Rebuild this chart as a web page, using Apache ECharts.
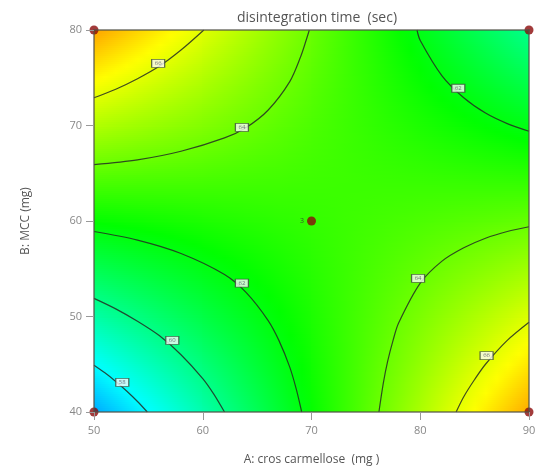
<!DOCTYPE html>
<html>
<head>
<meta charset="utf-8">
<script src="https://cdn.jsdelivr.net/npm/echarts@6/dist/echarts.min.js"></script>
<style>
html,body{margin:0;padding:0;background:#fff;}
#chart{width:539px;height:472px;}
</style>
</head>
<body>
<div id="chart"></div>
<script>
// ---- data ----
const A_TICKS = [50, 60, 70, 80, 90];          // A: cros carmellose (mg)
const B_TICKS = [40, 50, 60, 70, 80];          // B: MCC (mg)
// response (disintegration time, sec) at grid nodes, one array per B level
const zB40 = [56.6, 59.4, 62.3, 65.1, 67.9];
const zB50 = [59.5, 61.1, 62.7, 64.3, 65.9];
const zB60 = [62.3, 62.7, 63.1, 63.5, 63.9];
const zB70 = [65.2, 64.4, 63.5, 62.7, 61.9];
const zB80 = [68.0, 66.0, 64.0, 61.9, 59.9];

// contour lines [A, B]
const c66top = [[60.1,80],[58,77.9],[56,76.2],[54,74.9],[52,73.8],[50,72.9]];
const c64top = [[69.8,80],[69.5,78.9],[69,77.2],[68,74.6],[66,71.6],[64,69.8],[62,68.7],[58,67.3],[54,66.4],[50,65.9]];
const c62top = [[79.7,80],[80,78.9],[82,75.2],[84,72.9],[86,71.3],[88,70.2],[90,69.4]];
const c62low = [[50,58.9],[54,58],[58,56.6],[62,54.4],[64,52.5],[66,49.6],[67,47.5],[68,44.7],[68.6,42.4],[69.1,40]];
const c60low = [[50,51.9],[52,50.8],[54,49.5],[56,48],[58,46],[60,43.5],[61,41.9],[62,40]];
const c58low = [[50,44.9],[51,44.1],[52,43.2],[53,42.2],[54,41.1],[54.9,40]];
const c64low = [[76.2,40],[76.6,43],[77,45.3],[77.5,47.5],[78,49.3],[80,53.5],[82,55.8],[84,57.2],[86,58.2],[88,58.9],[90,59.4]];
const c66low = [[83.3,40],[84,41.6],[85,43.4],[86,45],[88,47.5],[90,49.4]];

// contour level labels
const labelA = [55.9, 63.6, 83.5, 63.6, 57.2, 52.6, 79.8, 86.1];
const labelB = [76.5, 69.8, 73.9, 53.5, 47.5, 43.1, 54.0, 45.9];
const labelText = ['66', '64', '62', '62', '60', '58', '64', '66'];

// design points
const designA = [50, 90, 70, 50, 90];
const designB = [80, 80, 60, 40, 40];
const designLabel = ['', '', '3', '', ''];

// ---- build ----
const zRows = [zB40, zB50, zB60, zB70, zB80];
const cells = [];
for (let j = 0; j < B_TICKS.length - 1; j++) {
  for (let i = 0; i < A_TICKS.length - 1; i++) {
    cells.push([A_TICKS[i], A_TICKS[i+1], B_TICKS[j], B_TICKS[j+1],
      zRows[j][i], zRows[j][i+1], zRows[j+1][i], zRows[j+1][i+1]]);
  }
}

const VMIN = 53.8, VMAX = 70.7;
const CMAP = [[0,[0,0,255]],[0.25,[0,255,255]],[0.5,[0,255,0]],[0.75,[255,255,0]],[1,[255,0,0]]];
function colorOf(v) {
  let t = (v - VMIN) / (VMAX - VMIN);
  t = Math.max(0, Math.min(1, t));
  for (let k = 0; k < CMAP.length - 1; k++) {
    const a = CMAP[k], b = CMAP[k+1];
    if (t <= b[0]) {
      const f = (t - a[0]) / (b[0] - a[0]);
      const c = a[1].map((x, n) => Math.round(x + (b[1][n] - x) * f));
      return 'rgb(' + c.join(',') + ')';
    }
  }
  return 'rgb(255,0,0)';
}

function renderCell(params, api) {
  const a0 = api.value(0), a1 = api.value(1), b0 = api.value(2), b1 = api.value(3);
  const z00 = api.value(4), z10 = api.value(5), z01 = api.value(6), z11 = api.value(7);
  const p00 = api.coord([a0, b0]);
  const p11 = api.coord([a1, b1]);
  const x0 = Math.floor(p00[0]), x1 = Math.ceil(p11[0]);
  const yb = p00[1], yt = p11[1];
  const H = yb - yt;
  const children = [];
  const yStart = Math.floor(yt), yEnd = Math.ceil(yb);
  for (let y = yStart; y < yEnd; y += 2) {
    const v = Math.max(0, Math.min(1, (yb - (y + 1)) / H));
    const zl = z00 * (1 - v) + z01 * v;
    const zr = z10 * (1 - v) + z11 * v;
    const stops = [];
    for (let s = 0; s <= 10; s++) {
      const u = s / 10;
      stops.push({offset: u, color: colorOf(zl + (zr - zl) * u)});
    }
    children.push({
      type: 'rect',
      shape: {x: x0, y: y, width: x1 - x0 + 1, height: 3},
      style: {fill: new echarts.graphic.LinearGradient(0, 0, 1, 0, stops)},
      silent: true
    });
  }
  return {type: 'group', children: children};
}

const FONT = 'Open Sans';
const contourStyle = {color: 'rgba(35,45,35,0.85)', width: 1.2};
function contour(data) {
  return {type: 'line', data: data, symbol: 'none', smooth: 0.3, silent: true, z: 3,
    lineStyle: contourStyle, clip: true};
}

const chart = echarts.init(document.getElementById('chart'), null, {renderer: 'canvas'});
const axisLineStyle = {color: 'rgba(80,80,70,0.8)', width: 1.5};
chart.setOption({
  animation: false,
  backgroundColor: '#fff',
  title: {
    text: 'disintegration time  (sec)',
    left: 312, top: 6, textAlign: 'center',
    textStyle: {fontFamily: FONT, fontSize: 14, fontWeight: 'normal', color: '#555'}
  },
  grid: {left: 94, right: 10, top: 30, bottom: 60},
  xAxis: [{
    type: 'value', min: 50, max: 90, interval: 10, z: 10,
    name: 'A: cros carmellose  (mg )', nameLocation: 'middle', nameGap: 42,
    nameTextStyle: {fontFamily: FONT, fontSize: 12, color: '#555'},
    axisLine: {show: true, lineStyle: axisLineStyle},
    axisTick: {show: true, length: 8, lineStyle: {color: '#999'}},
    axisLabel: {fontFamily: FONT, fontSize: 11, color: '#888', margin: 13},
    splitLine: {show: false}
  }, {
    type: 'value', min: 50, max: 90, position: 'top', z: 10,
    axisLine: {show: true, lineStyle: axisLineStyle},
    axisTick: {show: false}, axisLabel: {show: false}, splitLine: {show: false}
  }],
  yAxis: [{
    type: 'value', min: 40, max: 80, interval: 10, z: 10,
    name: 'B: MCC (mg)', nameLocation: 'middle', nameGap: 62,
    nameTextStyle: {fontFamily: FONT, fontSize: 12, color: '#555'},
    axisLine: {show: true, lineStyle: axisLineStyle},
    axisTick: {show: true, length: 8, lineStyle: {color: '#999'}},
    axisLabel: {fontFamily: FONT, fontSize: 11, color: '#888', margin: 12},
    splitLine: {show: false}
  }, {
    type: 'value', min: 40, max: 80, position: 'right', z: 10,
    axisLine: {show: true, lineStyle: axisLineStyle},
    axisTick: {show: false}, axisLabel: {show: false}, splitLine: {show: false}
  }],
  series: [
    {
      type: 'custom', renderItem: renderCell, data: cells, z: 1, silent: true, clip: true,
      dimensions: ['a0','a1','b0','b1','z00','z10','z01','z11'],
      encode: {x: [0, 1], y: [2, 3]}
    },
    contour(c66top), contour(c64top), contour(c62top),
    contour(c62low), contour(c60low), contour(c58low),
    contour(c64low), contour(c66low),
    {
      type: 'scatter', z: 4, silent: true,
      data: labelA.map((a, i) => ({value: [a, labelB[i]], name: labelText[i]})),
      symbol: 'rect', symbolSize: [13, 8],
      itemStyle: {color: '#fafafa', borderColor: '#3a4a3a', borderWidth: 1},
      label: {show: true, position: 'inside', formatter: p => p.name,
        fontFamily: FONT, fontSize: 6, color: '#556'}
    },
    {
      type: 'scatter', z: 5, silent: true, clip: false,
      data: designA.map((a, i) => ({value: [a, designB[i]], name: designLabel[i]})),
      symbol: 'circle', symbolSize: 9,
      itemStyle: {color: '#8b0a0a'},
      label: {show: true, position: 'left', distance: 3, formatter: p => p.name,
        fontFamily: FONT, fontSize: 7, color: '#333'}
    }
  ]
});
</script>
</body>
</html>
